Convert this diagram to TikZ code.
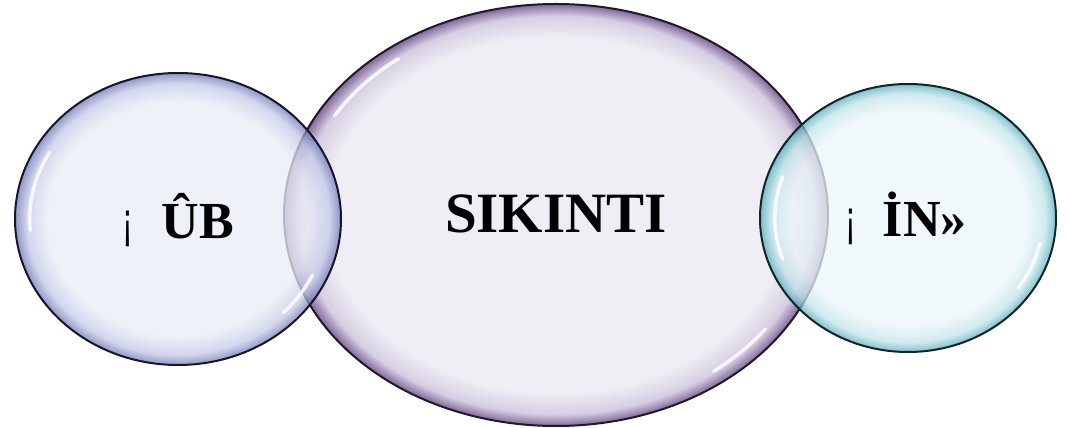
\documentclass[tikz,border=0pt]{standalone}
\usepackage{graphicx}
\usepackage{fontspec}
\setmainfont{Liberation Serif}
\newfontfamily\marksans{Liberation Sans}
\usetikzlibrary{shapes.geometric}
\definecolor{Lin}{HTML}{E9ECF6}
\definecolor{Lmid}{HTML}{C4C9E6}
\definecolor{Lrim}{HTML}{6E76B6}
\definecolor{Lline}{HTML}{15162C}
\definecolor{Cin}{HTML}{F0EEF5}
\definecolor{Cmid}{HTML}{D6CEE2}
\definecolor{Crim}{HTML}{80699A}
\definecolor{Cline}{HTML}{201A28}
\definecolor{Rin}{HTML}{EBF5F9}
\definecolor{Rmid}{HTML}{C0E3E9}
\definecolor{Rrim}{HTML}{55ADBA}
\definecolor{Rline}{HTML}{142428}
\pgfdeclareradialshading{shL}{\pgfpoint{0bp}{0bp}}{color(0bp)=(Lin); color(20bp)=(Lin); color(23.2bp)=(Lmid); color(25bp)=(Lrim); color(50bp)=(Lrim)}
\pgfdeclareradialshading{shC}{\pgfpoint{0bp}{0bp}}{color(0bp)=(Cin); color(21bp)=(Cin); color(23.6bp)=(Cmid); color(25bp)=(Crim); color(50bp)=(Crim)}
\pgfdeclareradialshading{shR}{\pgfpoint{0bp}{0bp}}{color(0bp)=(Rin); color(20bp)=(Rin); color(23.2bp)=(Rmid); color(25bp)=(Rrim); color(50bp)=(Rrim)}
\newcommand{\invexcl}{\scalebox{0.62}[1]{\marksans\fontsize{52}{56}\selectfont ¡}}
\tikzset{
  bubble/.style={ellipse, inner sep=0pt, outer sep=0pt, line width=2pt},
  hl/.style={white, line width=3.5pt, line cap=round, opacity=0.8},
  bigtext/.style={anchor=base, inner sep=0pt, font=\bfseries\fontsize{57}{60}\selectfont},
  sidetext/.style={anchor=base west, inner sep=0pt, font=\fontsize{52}{56}\selectfont},
}
\begin{document}
\begin{tikzpicture}[x=1pt,y=1pt]
\useasboundingbox (0,0) rectangle (1068,428);
% central bubble
\node[bubble, shade, shading=shC, draw=Cline, minimum width=544pt, minimum height=422pt] (C) at (556,213) {};
\draw[hl] (C.center) ++({0.94*272*cos(128)},{0.94*211*sin(128)}) arc[start angle=128, end angle=150, x radius=0.94*272, y radius=0.94*211];
\draw[hl] (C.center) ++({0.94*272*cos(-52)},{0.94*211*sin(-52)}) arc[start angle=-52, end angle=-35, x radius=0.94*272, y radius=0.94*211];
% left bubble
\node[bubble, shade, shading=shL, fill opacity=0.75, draw=Lline, minimum width=326pt, minimum height=292pt] (L) at (178,209) {};
\draw[hl] (L.center) ++({0.91*163*cos(150)},{0.91*146*sin(150)}) arc[start angle=150, end angle=185, x radius=0.91*163, y radius=0.91*146];
\draw[hl] (L.center) ++({0.91*163*cos(-45)},{0.91*146*sin(-45)}) arc[start angle=-45, end angle=-25, x radius=0.91*163, y radius=0.91*146];
% right bubble
\node[bubble, shade, shading=shR, fill opacity=0.75, draw=Rline, minimum width=296pt, minimum height=268pt] (R) at (908,210) {};
\draw[hl] (R.center) ++({0.9*148*cos(160)},{0.9*134*sin(160)}) arc[start angle=160, end angle=200, x radius=0.9*148, y radius=0.9*134];
\draw[hl] (R.center) ++({0.91*148*cos(-35)},{0.91*134*sin(-35)}) arc[start angle=-35, end angle=-12, x radius=0.91*148, y radius=0.91*134];
% texts
\node[bigtext] (tC) at (556,195) {SIKINTI};
\node[sidetext] (tL) at (122,189) {\invexcl\hspace{29pt}\textbf{ÛB}};
\node[sidetext] (tR) at (845,191) {\invexcl\hspace{27pt}\textbf{İN»}};
\end{tikzpicture}
\end{document}
